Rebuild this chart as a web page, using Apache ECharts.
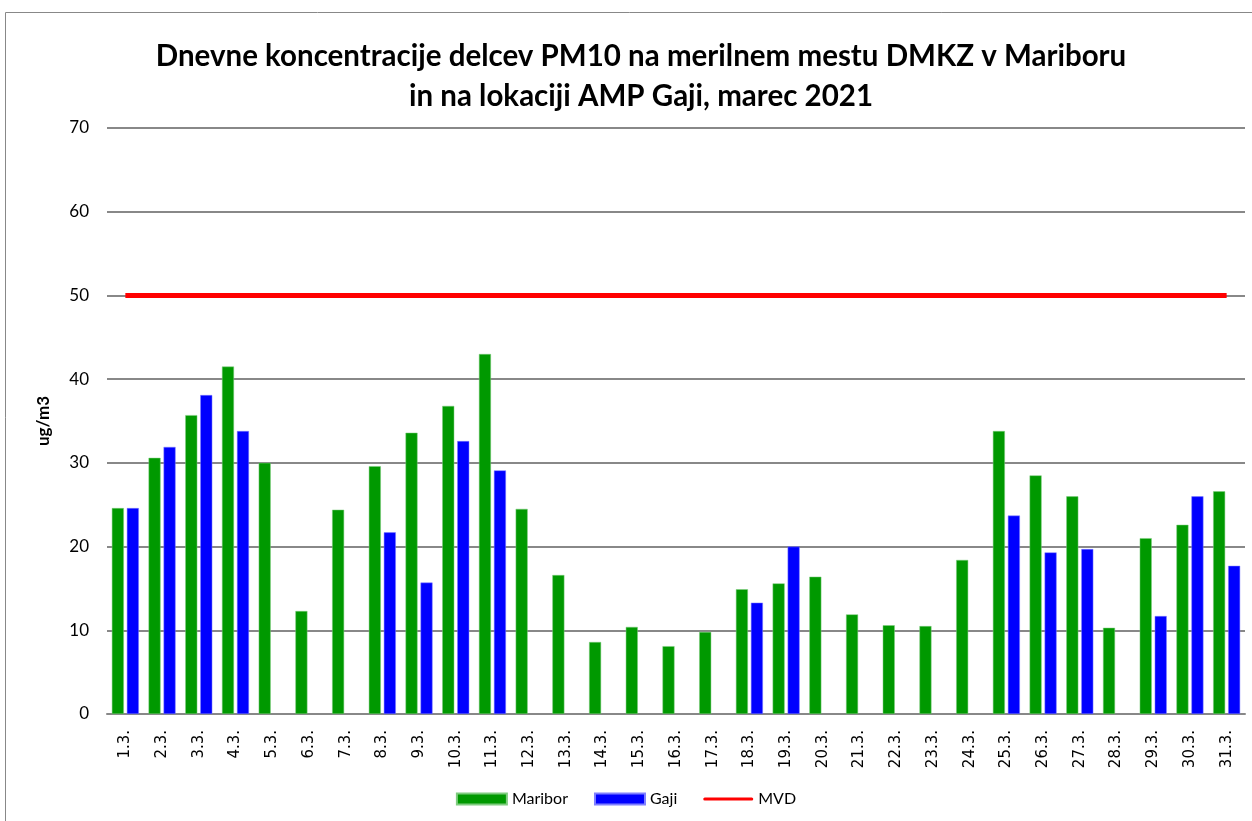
<!DOCTYPE html>
<html>
<head>
<meta charset="utf-8">
<script src="https://cdn.jsdelivr.net/npm/echarts@6/dist/echarts.min.js"></script>
<style>
  html, body { margin: 0; padding: 0; background: #fff; }
  #myChart { width: 1252px; height: 821px; }
</style>
</head>
<body>
<div id="myChart"></div>
<script>
// dnevi v marcu
const days = ['1.3.', '2.3.', '3.3.', '4.3.', '5.3.', '6.3.', '7.3.', '8.3.', '9.3.', '10.3.',
  '11.3.', '12.3.', '13.3.', '14.3.', '15.3.', '16.3.', '17.3.', '18.3.', '19.3.', '20.3.',
  '21.3.', '22.3.', '23.3.', '24.3.', '25.3.', '26.3.', '27.3.', '28.3.', '29.3.', '30.3.', '31.3.']

const maribor = [24.6, 30.6, 35.7, 41.5, 30.0, 12.3, 24.4, 29.6, 33.6, 36.8,
  43.0, 24.5, 16.6, 8.6, 10.4, 8.1, 9.8, 14.9, 15.6, 16.4,
  11.9, 10.6, 10.5, 18.4, 33.8, 28.5, 26.0, 10.3, 21.0, 22.6, 26.6]

const gaji = [24.6, 31.9, 38.1, 33.8, null, null, null, 21.7, 15.7, 32.6,
  29.1, null, null, null, null, null, null, 13.3, 20.0, null,
  null, null, null, null, 23.7, 19.3, 19.7, null, 11.7, 26.0, 17.7]

// mejna vrednost
const mvd = days.map(() => 50)

const yTicks = [0, 10, 20, 30, 40, 50, 60, 70]

let myChart = echarts.init(document.getElementById('myChart'))

let option = {
  backgroundColor: '#fff',
  animation: false,
  title: {
    text: 'Dnevne koncentracije delcev PM10 na merilnem mestu DMKZ v Mariboru\nin na lokaciji AMP Gaji, marec 2021',
    left: 636,
    top: 31,
    textAlign: 'center',
    textStyle: {
      fontFamily: 'Lato',
      fontWeight: 'bold',
      fontSize: 29.5,
      lineHeight: 40,
      color: '#000'
    }
  },
  graphic: [{
    type: 'rect',
    shape: { x: 5.5, y: 12.5, width: 1260, height: 830 },
    style: { fill: 'none', stroke: '#888', lineWidth: 1 },
    silent: true
  }],
  legend: {
    bottom: 9,
    left: 'center',
    itemWidth: 50,
    itemHeight: 11,
    itemGap: 26,
    textStyle: { fontFamily: 'Lato', fontSize: 16, color: '#000' },
    data: [
      { name: 'Maribor', icon: 'rect' },
      { name: 'Gaji', icon: 'rect' },
      { name: 'MVD', icon: 'path://M0,0 L0,0 M3,8 L97,8 A3,3 0 0 1 97,14 L3,14 A3,3 0 0 1 3,8 Z M100,22 L100,22' }
    ]
  },
  grid: {
    left: 107,
    right: 7,
    top: 128,
    bottom: 107
  },
  xAxis: [{
    type: 'category',
    data: days,
    axisLine: { show: true, lineStyle: { color: '#888', width: 2 } },
    axisTick: { show: false },
    axisLabel: {
      rotate: 90,
      margin: 16,
      fontFamily: 'DejaVu Sans',
      fontSize: 15,
      color: '#000'
    }
  }],
  yAxis: [{
    type: 'value',
    min: 0,
    max: 70,
    interval: 10,
    name: 'ug/m3',
    nameLocation: 'middle',
    nameGap: 55,
    nameRotate: 90,
    nameTextStyle: { fontFamily: 'Lato', fontWeight: 'bold', fontSize: 17, color: '#000' },
    axisLine: { show: false },
    axisTick: { show: false },
    axisLabel: {
      margin: 18,
      fontFamily: 'Lato',
      fontSize: 17,
      color: '#000',
      formatter: v => yTicks.includes(v) ? String(v) : ''
    },
    splitLine: { lineStyle: { color: '#888', width: 2 } }
  }],
  series: [
    {
      name: 'Maribor',
      type: 'bar',
      data: maribor,
      barWidth: 12,
      barGap: '25%',
      itemStyle: { color: '#009900', borderColor: '#7fcc7f', borderWidth: 0.5 }
    },
    {
      name: 'Gaji',
      type: 'bar',
      data: gaji,
      barWidth: 12,
      itemStyle: { color: '#0000ff', borderColor: '#8080ff', borderWidth: 0.5 }
    },
    {
      name: 'MVD',
      type: 'line',
      data: mvd,
      symbol: 'none',
      itemStyle: { color: '#ff0000' },
      lineStyle: { color: '#ff0000', width: 5 }
    }
  ]
}

myChart.setOption(option)
</script>
</body>
</html>
